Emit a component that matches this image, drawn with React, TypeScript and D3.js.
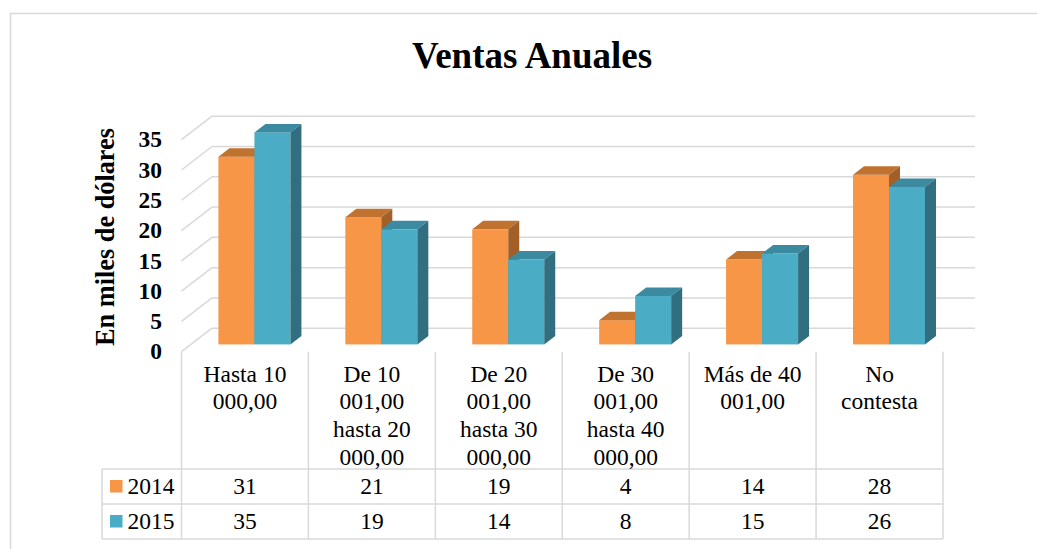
import React from 'react'
import * as d3 from 'd3'

// chart data
const categories = [
  ['Hasta 10', '000,00'],
  ['De 10', '001,00', 'hasta 20', '000,00'],
  ['De 20', '001,00', 'hasta 30', '000,00'],
  ['De 30', '001,00', 'hasta 40', '000,00'],
  ['Más de 40', '001,00'],
  ['No', 'contesta'],
]
const seriesNames = ['2014', '2015']
const values2014 = [31, 21, 19, 4, 14, 28]
const values2015 = [35, 19, 14, 8, 15, 26]
const yTicks = [0, 5, 10, 15, 20, 25, 30, 35]

const W = 1037
const H = 549
const FONT = 'Liberation Serif, Times New Roman, serif'
const GRID = '#d9d9d9'

// colours per series: front, top, side
const palette = [
  { front: '#F79646', top: '#C0722F', side: '#A25F27' },
  { front: '#4BACC6', top: '#3B8AA0', side: '#316E80' },
]

const App = () => {
  const keys = categories.map((c) => c.join(' '))
  const x = d3.scaleBand().domain(keys).range([181.5, 943])
  const h = d3.scaleLinear().domain([0, 35]).range([0, 212])

  const floorY = 351.7
  const DX = 30.5
  const DY = -23.5
  // bars sit roughly in the middle of the depth
  const fx = DX * 0.31
  const fy = DY * 0.31
  const baseY = floorY + fy
  const barW = 36
  const bdx = 11
  const bdy = -8.5

  const rowTop = [469, 504]
  const rowH = 35
  const tableBottom = 539
  const legendLeft = 102

  const series = [values2014, values2015]
  const txt = { fontFamily: FONT }

  const bar = (v: number, x0: number, s: number, key: string) => {
    const yt = baseY - h(v)
    const c = palette[s]
    const top = [
      [x0, yt],
      [x0 + barW, yt],
      [x0 + barW + bdx, yt + bdy],
      [x0 + bdx, yt + bdy],
    ]
    const side = [
      [x0 + barW, yt],
      [x0 + barW + bdx, yt + bdy],
      [x0 + barW + bdx, baseY + bdy],
      [x0 + barW, baseY],
    ]
    return (
      <g key={key}>
        <rect x={x0} y={yt} width={barW} height={h(v)} fill={c.front} />
        <polygon points={top.map((p) => p.join(',')).join(' ')} fill={c.top} />
        <polygon points={side.map((p) => p.join(',')).join(' ')} fill={c.side} />
      </g>
    )
  }

  const boundaries = [...keys.map((k) => x(k) as number), 943]

  return (
    <svg
      width={W}
      height={H}
      style={{ position: 'absolute', left: 0, top: 0, background: '#fff', fontFamily: FONT }}
    >
      <rect x={10.5} y={13.5} width={1040} height={545} fill="#fff" stroke={GRID} strokeWidth={1.5} />

      <text x={532} y={67.5} textAnchor="middle" fontSize={37} fontWeight="bold" style={txt}>
        Ventas Anuales
      </text>

      <text
        transform="translate(114, 237) rotate(-90)"
        textAnchor="middle"
        fontSize={26.3}
        fontWeight="bold"
        style={txt}
      >
        En miles de dólares
      </text>

      {/* gridlines: back wall + left wall */}
      {yTicks.map((t) => {
        const yf = floorY - h(t)
        const yb = yf + DY
        return (
          <g key={'g' + t} stroke={GRID} strokeWidth={1.5}>
            <line x1={181.5 + DX} x2={943 + DX + 1.5} y1={yb} y2={yb} />
            <line x1={181.5} x2={181.5 + DX} y1={yf} y2={yb} />
          </g>
        )
      })}

      {yTicks.map((t) => (
        <text
          key={'t' + t}
          x={162}
          y={floorY - h(t)}
          dy="0.33em"
          textAnchor="end"
          fontSize={23.5}
          fontWeight="bold"
          style={txt}
        >
          {t}
        </text>
      ))}

      {/* bars */}
      {keys.map((k, i) => {
        const cx = (x(k) as number) + x.bandwidth() / 2 + fx
        return (
          <g key={'b' + i}>
            {series.map((vals, s) => bar(vals[i], cx - barW + s * barW, s, k + s))}
          </g>
        )
      })}

      {/* data table */}
      <g stroke={GRID} strokeWidth={1.5}>
        {boundaries.map((bx, i) => (
          <line key={'v' + i} x1={bx} x2={bx} y1={floorY} y2={tableBottom} />
        ))}
        <line x1={legendLeft} x2={legendLeft} y1={rowTop[0]} y2={tableBottom} />
        {[...rowTop, tableBottom].map((ry, i) => (
          <line key={'h' + i} x1={legendLeft} x2={943} y1={ry} y2={ry} />
        ))}
      </g>

      {categories.map((lines, i) => (
        <text
          key={'c' + i}
          x={(x(keys[i]) as number) + x.bandwidth() / 2}
          fontSize={23.5}
          textAnchor="middle"
          style={txt}
        >
          {lines.map((ln, j) => (
            <tspan key={j} x={(x(keys[i]) as number) + x.bandwidth() / 2} y={381.7 + j * 27.7}>
              {ln}
            </tspan>
          ))}
        </text>
      ))}

      {series.map((vals, s) => {
        const cy = rowTop[s] + rowH / 2
        return (
          <g key={'r' + s}>
            <rect x={110} y={cy - 6.5} width={12.5} height={12.5} fill={palette[s].front} />
            <text x={127.5} y={cy + 7.3} fontSize={23.5} style={txt}>
              {seriesNames[s]}
            </text>
            {vals.map((v, i) => (
              <text
                key={i}
                x={(x(keys[i]) as number) + x.bandwidth() / 2}
                y={cy + 7.3}
                fontSize={23.5}
                textAnchor="middle"
                style={txt}
              >
                {v}
              </text>
            ))}
          </g>
        )
      })}
    </svg>
  )
}

export default App
